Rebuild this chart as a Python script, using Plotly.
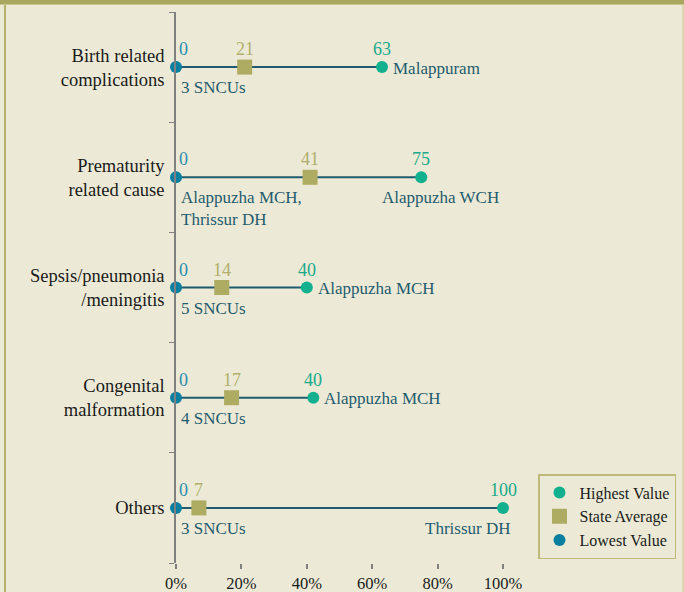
import plotly.graph_objects as go

# Данные
causes = ["Birth related<br>complications", "Prematurity<br>related cause",
          "Sepsis/pneumonia<br>/meningitis", "Congenital<br>malformation", "Others"]
lowest = [0, 0, 0, 0, 0]
average = [21, 41, 14, 17, 7]
highest = [63, 75, 40, 42, 100]
highest_text = ["63", "75", "40", "40", "100"]
lowest_where = ["3 SNCUs", "Alappuzha MCH,<br>Thrissur DH", "5 SNCUs", "4 SNCUs", "3 SNCUs"]
highest_where = ["Malappuram", "Alappuzha WCH", "Alappuzha MCH", "Alappuzha MCH", "Thrissur DH"]
x_ticks = [0, 20, 40, 60, 80, 100]

# где ставить подпись максимума: справа / снизу / снизу со сдвигом влево
high_place = ["right", "below", "right", "right", "below_left"]

BG = "#ECEAD6"
OLIVE = "#AEAB62"
BLUE = "#0B7FA0"
GREEN = "#13B08F"
TEAL = "#1F5B6E"
FONT = "Liberation Serif"

fig = go.Figure()

# линии от минимума до максимума
for c, lo, hi in zip(causes, lowest, highest):
    fig.add_trace(go.Scatter(
        x=[lo, hi], y=[c, c], mode="lines",
        line=dict(color=TEAL, width=2),
        showlegend=False, hoverinfo="skip", cliponaxis=False
    ))

fig.add_trace(go.Scatter(
    x=highest, y=causes, mode="markers", name="Highest Value",
    marker=dict(color=GREEN, size=12, symbol="circle"), cliponaxis=False
))
fig.add_trace(go.Scatter(
    x=average, y=causes, mode="markers", name="State Average",
    marker=dict(color=OLIVE, size=15, symbol="square"), cliponaxis=False
))
fig.add_trace(go.Scatter(
    x=lowest, y=causes, mode="markers", name="Lowest Value",
    marker=dict(color=BLUE, size=12, symbol="circle"), cliponaxis=False
))

ann = []
for i, c in enumerate(causes):
    # значения над маркерами
    ann.append(dict(x=lowest[i], y=c, text=str(lowest[i]), xanchor="left", xshift=1, yshift=18,
                    font=dict(color="#2A8DB0", size=18)))
    ann.append(dict(x=average[i], y=c, text=str(average[i]), xanchor="center", yshift=18,
                    font=dict(color="#B1AE6C", size=18)))
    ann.append(dict(x=highest[i], y=c, text=highest_text[i], xanchor="center", yshift=18,
                    font=dict(color="#1AA98A", size=18)))
    # подписи учреждений
    ann.append(dict(x=lowest[i], y=c, text=lowest_where[i], xanchor="left", yanchor="top",
                    align="left", xshift=3, yshift=-9,
                    font=dict(color=TEAL, size=17)))
    if high_place[i] == "right":
        ann.append(dict(x=highest[i], y=c, text=highest_where[i], xanchor="left", xshift=9, yshift=-1,
                        font=dict(color=TEAL, size=17)))
    elif high_place[i] == "below":
        ann.append(dict(x=highest[i], y=c, text=highest_where[i], xanchor="center", yanchor="top",
                        xshift=19, yshift=-9, font=dict(color=TEAL, size=17)))
    else:
        ann.append(dict(x=highest[i], y=c, text=highest_where[i], xanchor="right", yanchor="top",
                        xshift=9, yshift=-9, font=dict(color=TEAL, size=17)))

for a in ann:
    a.update(xref="x", yref="y", showarrow=False)

# рамка
L, R, T, B = 176, 503, 12, 563
px = lambda v: (v - L) / (R - L)
py = lambda v: (B - v) / (B - T)
shapes = [
    dict(type="rect", xref="paper", yref="paper", x0=px(0), x1=px(684), y0=py(0), y1=py(4),
         fillcolor="#A9A660", line=dict(width=0), layer="below"),
    dict(type="line", xref="paper", yref="paper", x0=px(0), x1=px(684), y0=py(4.5), y1=py(4.5),
         line=dict(color="#C8C68A", width=1)),
    dict(type="line", xref="paper", yref="paper", x0=px(5), x1=px(5), y0=py(5), y1=py(600),
         line=dict(color="#B4B16C", width=2)),
    dict(type="line", xref="paper", yref="paper", x0=px(683), x1=px(683), y0=py(5), y1=py(600),
         line=dict(color="#C8C68A", width=1)),
]

fig.update_layout(
    width=684, height=592,
    margin=dict(l=L, r=684 - R, t=T, b=592 - B, autoexpand=False),
    paper_bgcolor=BG, plot_bgcolor=BG,
    font=dict(family=FONT, size=16, color="#1A1A1A"),
    annotations=ann, shapes=shapes,
    xaxis=dict(range=[0, 100], tickvals=x_ticks, ticktext=[f"{v}%" for v in x_ticks],
               showgrid=False, zeroline=False, showline=False,
               ticks="outside", ticklen=5, tickcolor="#808080", tickwidth=1.5,
               tickfont=dict(size=16.5, color="#1A1A1A")),
    yaxis=dict(categoryorder="array", categoryarray=causes[::-1], autorange=False,
               range=[-0.5, 4.5], showgrid=False, zeroline=False,
               showline=True, linecolor="#808080", linewidth=1.5,
               ticks="outside", tickson="boundaries", ticklen=5, tickcolor="#808080",
               tickfont=dict(size=18.5, color="#1A1A1A"), ticklabelstandoff=6),
    legend=dict(x=px(676), y=py(474), xanchor="right", yanchor="top",
                bgcolor=BG, bordercolor="#BDBA7C", borderwidth=1.5,
                font=dict(size=16, color="#1A1A1A"), tracegroupgap=0, itemwidth=30),
    showlegend=True,
)

# убираем отступ body, чтобы график стоял в углу окна
fig.write_html("out.html", config={"displayModeBar": False},
               post_script="document.body.style.margin='0';")
